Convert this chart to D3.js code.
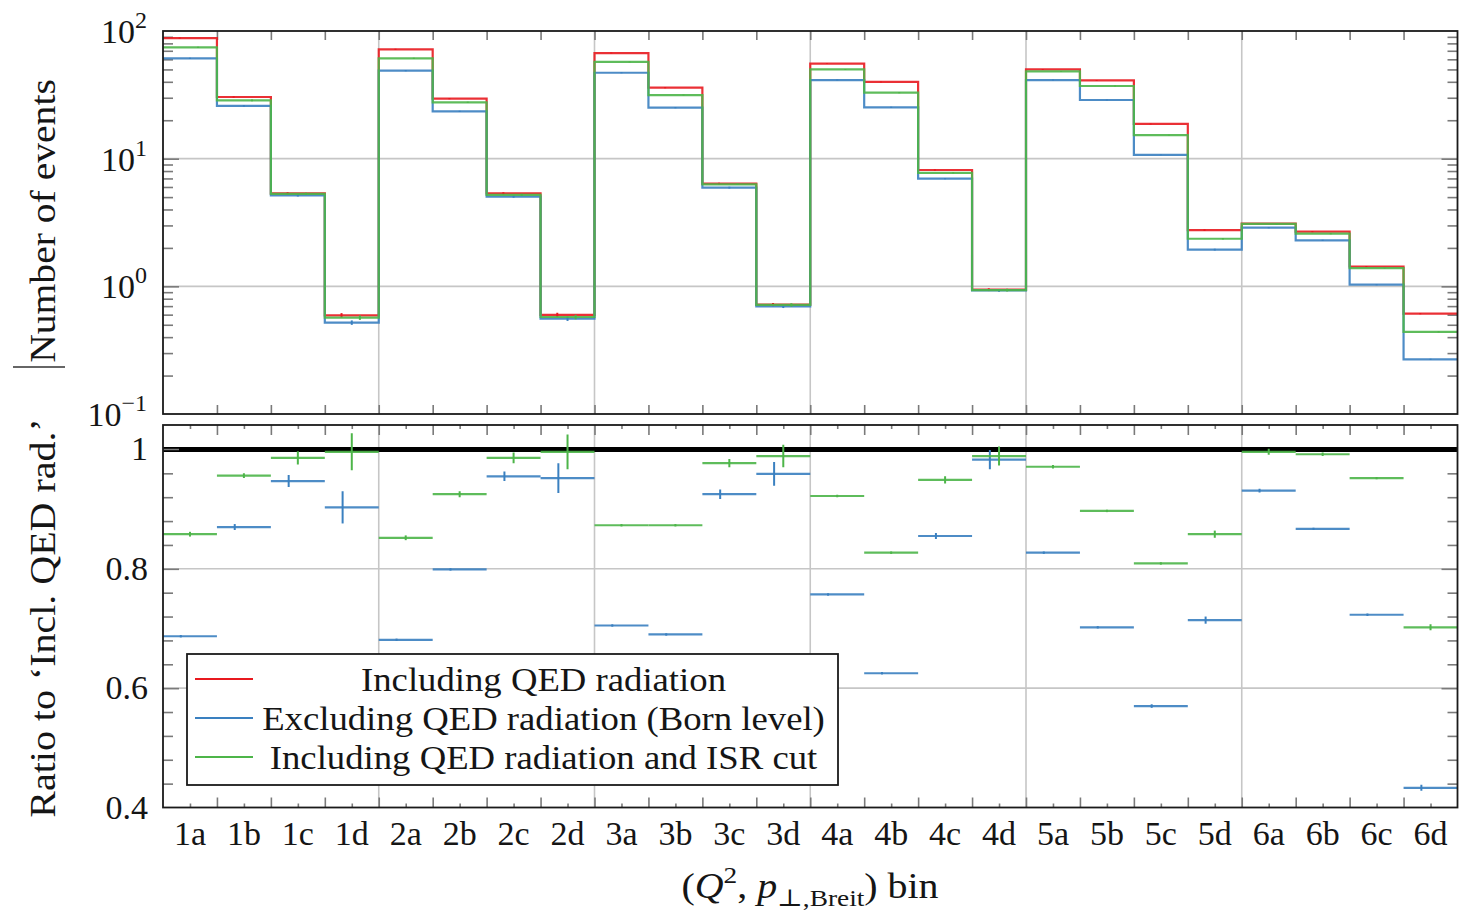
<!DOCTYPE html>
<html>
<head>
<meta charset="utf-8">
<script src="https://cdn.jsdelivr.net/npm/d3@7"></script>
<style>
  body { margin: 0; background: #fff; }
  text { font-family: "Liberation Serif", "DejaVu Serif", serif; fill: #151515; }
</style>
</head>
<body>
<svg id="chart" width="1467" height="911"></svg>
<script>
// (Q^2, pT,Breit) bins
const bins = ["1a","1b","1c","1d","2a","2b","2c","2d","3a","3b","3c","3d",
              "4a","4b","4c","4d","5a","5b","5c","5d","6a","6b","6c","6d"];

// Number of events per bin
const inclQED  = [88, 30.4, 5.35, 0.593, 71.8, 29.5, 5.35, 0.597, 67.2, 36, 6.37, 0.719,
                  55.5, 39.9, 8.15, 0.942, 50, 41, 18.7, 2.76, 3.1, 2.68, 1.43, 0.611];
const bornLvl  = [61, 25.9, 5.16, 0.52, 48.9, 23.5, 5.04, 0.558, 47.1, 25.1, 5.93, 0.697,
                  41.3, 25.2, 6.97, 0.93, 41.3, 28.8, 10.7, 1.94, 2.88, 2.29, 1.03, 0.268];
const isrCut   = [74.4, 28.6, 5.3, 0.569, 61, 27.6, 5.2, 0.575, 57.2, 31.5, 6.3, 0.715,
                  50, 32.9, 7.73, 0.935, 48.3, 37.1, 15.3, 2.36, 3.08, 2.59, 1.39, 0.44];
// relative statistical uncertainty of the event counts
const countRelErr = [0.01, 0.015, 0.02, 0.04, 0.01, 0.012, 0.02, 0.04, 0.008, 0.01, 0.015, 0.03,
                     0.008, 0.01, 0.012, 0.025, 0.008, 0.008, 0.008, 0.015, 0.012, 0.01, 0.008, 0.012];

// Ratios to 'Incl. QED rad.' with uncertainties
const ratioBorn    = [0.687, 0.870, 0.947, 0.903, 0.681, 0.799, 0.955, 0.952, 0.705, 0.690, 0.925, 0.959,
                      0.757, 0.625, 0.855, 0.983, 0.827, 0.702, 0.570, 0.714, 0.931, 0.867, 0.723, 0.433];
const ratioBornErr = [0.002, 0.005, 0.010, 0.027, 0.002, 0.002, 0.008, 0.025, 0.002, 0.002, 0.008, 0.020,
                      0.002, 0.002, 0.005, 0.016, 0.002, 0.002, 0.003, 0.006, 0.003, 0.002, 0.002, 0.005];
const ratioIsr     = [0.858, 0.956, 0.986, 0.996, 0.852, 0.925, 0.986, 0.996, 0.873, 0.873, 0.977, 0.989,
                      0.922, 0.827, 0.949, 0.989, 0.971, 0.897, 0.809, 0.858, 0.996, 0.992, 0.952, 0.702];
const ratioIsrErr  = [0.004, 0.004, 0.011, 0.031, 0.004, 0.005, 0.009, 0.029, 0.002, 0.002, 0.007, 0.019,
                      0.002, 0.002, 0.006, 0.016, 0.003, 0.002, 0.002, 0.006, 0.005, 0.003, 0.002, 0.005];

// Axis tick values and legend labels
const countDecades = [0.1, 1, 10, 100];
const countExponents = ["−1", "0", "1", "2"];
const ratioMajor = [0.4, 0.6, 0.8, 1.0];
const ratioLabels = ["0.4", "0.6", "0.8", "1"];
const legendLabels = ["Including QED radiation",
                      "Excluding QED radiation (Born level)",
                      "Including QED radiation and ISR cut"];

const RED = "#e8191f", BLUE = "#3a80c0", GREEN = "#4db549";
const GRID = "#c6c6c6", TICK = "#7a7a7a";

const svg = d3.select("#chart");
const left = 163, right = 1457.5;
const top1 = 31, bot1 = 414, top2 = 425, bot2 = 807.5;

const x = d3.scaleLinear().domain([0, bins.length]).range([left, right]);
const yCount = d3.scaleLog().domain([0.1, 100]).range([bot1, top1]);
const yRatio = d3.scaleLinear().domain([0.4, 1.041]).range([bot2, top2]);

// indices where a new Q^2 group starts
const groupEdges = bins.map((b, i) => (i > 0 && b[0] !== bins[i - 1][0]) ? i : null).filter(v => v !== null);
const innerEdges = d3.range(1, bins.length);
const centers = d3.range(bins.length).map(i => i + 0.5);

const defs = svg.append("defs");
defs.append("clipPath").attr("id", "clipTop").append("rect")
  .attr("x", left).attr("y", top1).attr("width", right - left).attr("height", bot1 - top1);
defs.append("clipPath").attr("id", "clipRatio").append("rect")
  .attr("x", left).attr("y", top2).attr("width", right - left).attr("height", bot2 - top2);

// ---------- grid ----------
const grid = svg.append("g").attr("stroke", GRID).attr("stroke-width", 1.6);
groupEdges.forEach(i => {
  grid.append("line").attr("x1", x(i)).attr("x2", x(i)).attr("y1", top1).attr("y2", bot1);
  grid.append("line").attr("x1", x(i)).attr("x2", x(i)).attr("y1", top2).attr("y2", bot2);
});
countDecades.slice(1, -1).forEach(v => {
  grid.append("line").attr("x1", left).attr("x2", right).attr("y1", yCount(v)).attr("y2", yCount(v));
});
ratioMajor.slice(1, -1).forEach(v => {
  grid.append("line").attr("x1", left).attr("x2", right).attr("y1", yRatio(v)).attr("y2", yRatio(v));
});

// ---------- ticks (inward) ----------
function styleTicks(g) {
  g.select(".domain").remove();
  g.selectAll(".tick line").attr("stroke", TICK).attr("stroke-width", 1.6);
  g.selectAll(".tick text").remove();
}
const countMinor = yCount.ticks().filter(v => !countDecades.some(d => Math.abs(v - d) < 1e-9));
const ratioMinor = d3.range(0.44, 1.0, 0.04).map(v => +v.toFixed(2))
  .filter(v => !ratioMajor.some(m => Math.abs(m - v) < 1e-6));

const ticks = svg.append("g");
// count panel, y
ticks.append("g").attr("transform", `translate(${left},0)`)
  .call(d3.axisRight(yCount).tickValues(countMinor).tickSize(10)).call(styleTicks);
ticks.append("g").attr("transform", `translate(${left},0)`)
  .call(d3.axisRight(yCount).tickValues(countDecades.slice(1, -1)).tickSize(16)).call(styleTicks);
ticks.append("g").attr("transform", `translate(${right},0)`)
  .call(d3.axisLeft(yCount).tickValues(countMinor).tickSize(10)).call(styleTicks);
ticks.append("g").attr("transform", `translate(${right},0)`)
  .call(d3.axisLeft(yCount).tickValues(countDecades.slice(1, -1)).tickSize(16)).call(styleTicks);
// count panel, x
ticks.append("g").attr("transform", `translate(0,${top1})`)
  .call(d3.axisBottom(x).tickValues(innerEdges).tickSize(9)).call(styleTicks);
ticks.append("g").attr("transform", `translate(0,${bot1})`)
  .call(d3.axisTop(x).tickValues(innerEdges).tickSize(9)).call(styleTicks);
// ratio panel, y
ticks.append("g").attr("transform", `translate(${left},0)`)
  .call(d3.axisRight(yRatio).tickValues(ratioMinor).tickSize(10)).call(styleTicks);
ticks.append("g").attr("transform", `translate(${left},0)`)
  .call(d3.axisRight(yRatio).tickValues(ratioMajor.slice(1)).tickSize(16)).call(styleTicks);
ticks.append("g").attr("transform", `translate(${right},0)`)
  .call(d3.axisLeft(yRatio).tickValues(ratioMinor).tickSize(10)).call(styleTicks);
ticks.append("g").attr("transform", `translate(${right},0)`)
  .call(d3.axisLeft(yRatio).tickValues(ratioMajor.slice(1)).tickSize(16)).call(styleTicks);
// ratio panel, x
ticks.append("g").attr("transform", `translate(0,${top2})`)
  .call(d3.axisBottom(x).tickValues(innerEdges).tickSize(10)).call(styleTicks);
ticks.append("g").attr("transform", `translate(0,${top2})`)
  .call(d3.axisBottom(x).tickValues(centers).tickSize(4)).call(styleTicks);
ticks.append("g").attr("transform", `translate(0,${bot2})`)
  .call(d3.axisTop(x).tickValues(innerEdges).tickSize(10)).call(styleTicks);
ticks.append("g").attr("transform", `translate(0,${bot2})`)
  .call(d3.axisTop(x).tickValues(centers).tickSize(4)).call(styleTicks);

// ---------- count histograms ----------
const series = [
  { vals: inclQED, color: RED,   off: -0.19 },
  { vals: bornLvl, color: BLUE,  off: 0 },
  { vals: isrCut,  color: GREEN, off: 0.15 }
];
const step = d3.line().x(d => x(d[0])).y(d => yCount(d[1])).curve(d3.curveStepAfter);
const topData = svg.append("g").attr("clip-path", "url(#clipTop)");
series.forEach(s => {
  const pts = s.vals.map((v, i) => [i, v]).concat([[bins.length, s.vals[s.vals.length - 1]]]);
  topData.append("path").attr("d", step(pts))
    .attr("fill", "none").attr("stroke", s.color).attr("stroke-width", 2.2).attr("stroke-opacity", 0.9);
  s.vals.forEach((v, i) => {
    const e = countRelErr[i];
    topData.append("line")
      .attr("x1", x(i + 0.5 + s.off)).attr("x2", x(i + 0.5 + s.off))
      .attr("y1", yCount(v * (1 - e))).attr("y2", yCount(v * (1 + e)))
      .attr("stroke", s.color).attr("stroke-width", 2);
  });
});

// ---------- ratio panel ----------
const ratioData = svg.append("g").attr("clip-path", "url(#clipRatio)");
ratioData.append("line").attr("x1", left).attr("x2", right)
  .attr("y1", yRatio(1)).attr("y2", yRatio(1)).attr("stroke", "#000").attr("stroke-width", 5);
ratioData.append("line").attr("x1", left).attr("x2", left + 16)
  .attr("y1", yRatio(1)).attr("y2", yRatio(1)).attr("stroke", TICK).attr("stroke-width", 1.6);
[
  { vals: ratioBorn, errs: ratioBornErr, color: BLUE,  off: -0.17 },
  { vals: ratioIsr,  errs: ratioIsrErr,  color: GREEN, off: 0 }
].forEach(s => {
  s.vals.forEach((v, i) => {
    ratioData.append("line").attr("x1", x(i)).attr("x2", x(i + 1))
      .attr("y1", yRatio(v)).attr("y2", yRatio(v))
      .attr("stroke", s.color).attr("stroke-width", 2.2).attr("stroke-opacity", 0.9);
    ratioData.append("line")
      .attr("x1", x(i + 0.5 + s.off)).attr("x2", x(i + 0.5 + s.off))
      .attr("y1", yRatio(v - s.errs[i])).attr("y2", yRatio(v + s.errs[i]))
      .attr("stroke", s.color).attr("stroke-width", 2);
  });
});

// ---------- frames ----------
[[top1, bot1], [top2, bot2]].forEach(([a, b]) => {
  svg.append("rect").attr("x", left).attr("y", a).attr("width", right - left).attr("height", b - a)
    .attr("fill", "none").attr("stroke", "#1a1a1a").attr("stroke-width", 1.8);
});

// ---------- tick labels ----------
const FS = 34;
countDecades.forEach((v, i) => {
  const t = svg.append("text").attr("x", left - 16).attr("y", yCount(v) + 12)
    .attr("text-anchor", "end").attr("font-size", FS);
  t.append("tspan").text("10");
  t.append("tspan").attr("font-size", 24).attr("dy", -15).text(countExponents[i]);
});
ratioMajor.forEach((v, i) => {
  svg.append("text").attr("x", left - 15).attr("y", yRatio(v) + 11)
    .attr("text-anchor", "end").attr("font-size", FS).text(ratioLabels[i]);
});
bins.forEach((b, i) => {
  svg.append("text").attr("x", x(i + 0.5)).attr("y", 845)
    .attr("text-anchor", "middle").attr("font-size", FS).text(b);
});

// ---------- axis titles (slightly widened serif) ----------
const xt = svg.append("text").attr("transform", "translate(810,898) scale(1.14,1)")
  .attr("text-anchor", "middle").attr("font-size", 35);
xt.append("tspan").text("(");
xt.append("tspan").attr("font-style", "italic").text("Q");
xt.append("tspan").attr("font-size", 24).attr("dy", -15).text("2");
xt.append("tspan").attr("dy", 15).text(", ");
xt.append("tspan").attr("font-style", "italic").text("p");
xt.append("tspan").attr("font-size", 24).attr("dy", 8).text("⊥,Breit");
xt.append("tspan").attr("dy", -8).text(") bin");

svg.append("text").attr("transform", "translate(55,221) rotate(-90) scale(1.1,1)")
  .attr("text-anchor", "middle").attr("font-size", 36).text("Number of events");
svg.append("line").attr("x1", 13).attr("x2", 65).attr("y1", 367).attr("y2", 367)
  .attr("stroke", "#333").attr("stroke-width", 1.6);
svg.append("text").attr("transform", "translate(55,618) rotate(-90) scale(1.11,1)")
  .attr("text-anchor", "middle").attr("font-size", 36).text("Ratio to ‘Incl. QED rad.’");

// ---------- legend ----------
const lg = svg.append("g");
lg.append("rect").attr("x", 187).attr("y", 654).attr("width", 651).attr("height", 131)
  .attr("fill", "#fff").attr("stroke", "#1a1a1a").attr("stroke-width", 1.8);
[RED, BLUE, GREEN].forEach((c, i) => {
  const yy = 679 + i * 39;
  lg.append("line").attr("x1", 195).attr("x2", 253).attr("y1", yy).attr("y2", yy)
    .attr("stroke", c).attr("stroke-width", 2);
  lg.append("text").attr("transform", `translate(543.5,${yy + 12}) scale(1.08,1)`)
    .attr("text-anchor", "middle").attr("font-size", FS).text(legendLabels[i]);
});
</script>
</body>
</html>
